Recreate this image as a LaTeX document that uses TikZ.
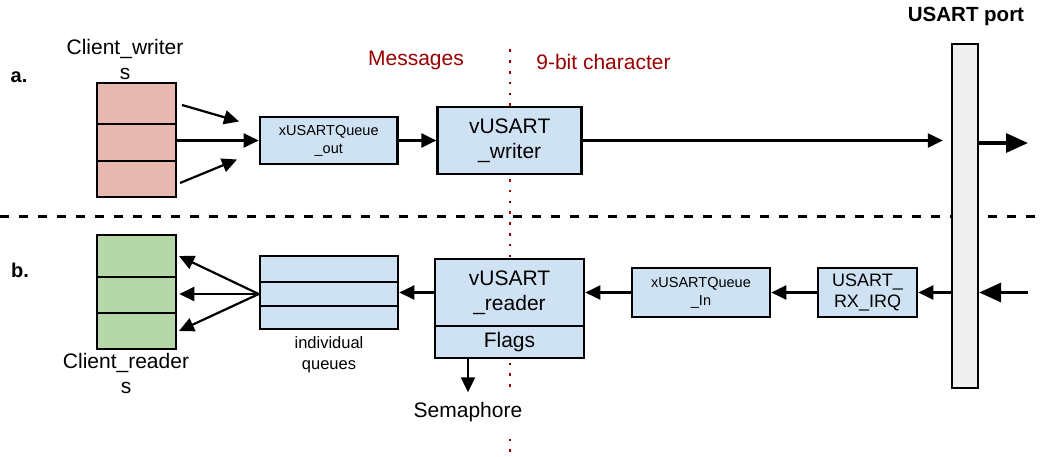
\documentclass[tikz,border=0pt]{standalone}
\usepackage{fontspec}
\setmainfont{Liberation Sans}
\usetikzlibrary{arrows.meta}
\definecolor{msgred}{HTML}{990000}
\definecolor{writerfill}{HTML}{E6B8AF}
\definecolor{readerfill}{HTML}{B6D7A8}
\definecolor{queuefill}{HTML}{CFE2F3}
\definecolor{portfill}{HTML}{EFEFEF}
\begin{document}
\begin{tikzpicture}[x=1pt,y=-1pt,
  box/.style={draw, line width=2.6pt, inner sep=0pt, align=center},
  wcell/.style={box, fill=writerfill, minimum width=79pt},
  rcell/.style={box, fill=readerfill, minimum width=79pt},
  qcell/.style={box, fill=queuefill},
  big/.style={font=\fontsize{21}{25}\selectfont},
  mid/.style={font=\fontsize{18}{21}\selectfont},
  small/.style={font=\fontsize{14.5}{18}\selectfont},
  lbl/.style={align=center, inner sep=0pt},
  sect/.style={font=\fontsize{20}{24}\selectfont\bfseries, inner sep=0pt},
  arr/.style={line width=2.2pt, -{Triangle[length=15pt,width=14pt]}},
  bigarr/.style={line width=3.2pt, -{Triangle[length=22pt,width=19pt]}},
  sepline/.style={line width=2.7pt, dash pattern=on 9pt off 10pt},
  divline/.style={msgred, line width=2.6pt, dash pattern=on 2.6pt off 8.2pt}]
\useasboundingbox (0,0) rectangle (1041,456);

% separator between the two halves and the message / character boundary
\draw[sepline] (0,216.5) -- (1041,216.5);
\draw[divline] (510,49.4) -- (510,456);

% section letters and headings
\node[sect] (lbla) at (19,77) {a.};
\node[sect] (lblb) at (20,270) {b.};
\node[big, lbl, text=msgred] (msg) at (416,60) {Messages};
\node[big, lbl, text=msgred] (chr) at (603.5,62) {9-bit character};
\node[sect, font=\fontsize{20.5}{24}\selectfont\bfseries] (portlbl) at (966,16) {USART port};

% USART port
\node[box, fill=portfill, minimum width=25.7pt, minimum height=344pt] (port) at (965,216) {};

% ---- a. transmit path ----
\node[wcell, minimum height=41pt] (cw1) at (136.5,103.5) {};
\node[wcell, minimum height=37pt] (cw2) at (136.5,142.5) {};
\node[wcell, minimum height=36pt] (cw3) at (136.5,179) {};
\node[big, lbl, anchor=base] (cwlbl) at (125,79.5) {Client\_writer\\s};

\node[qcell, small, minimum width=137.5pt, minimum height=47pt] (qout) at (328.75,140.5) {xUSARTQueue\\\_out};
\node[qcell, big, minimum width=144pt, minimum height=67pt] (writer) at (509.7,140.5) {vUSART\\\_writer};

\coordinate (w1s) at (182,105);
\coordinate (w1e) at (239,121.5);
\coordinate (w3s) at (180,183);
\coordinate (w3e) at (237,159.5);
\coordinate (txend) at (1028,143);

\draw[arr] (w1s) -- (w1e);
\draw[arr] (cw2.east |- qout.west) -- (qout.west);
\draw[arr] (w3s) -- (w3e);
\draw[arr] (qout.east) -- (writer.west);
\draw[arr, shorten >=8pt] (writer.east) -- (writer.east -| port.west);
\draw[bigarr] (port.east |- txend) -- (txend);

% ---- b. receive path ----
\node[rcell, minimum height=42pt] (cr1) at (136.5,256) {};
\node[rcell, minimum height=36pt] (cr2) at (136.5,295) {};
\node[rcell, minimum height=36pt] (cr3) at (136.5,331) {};
\node[big, lbl, anchor=base] (crlbl) at (126,393.5) {Client\_reader\\s};

\node[qcell, minimum width=138pt, minimum height=26pt] (iq1) at (329,269) {};
\node[qcell, minimum width=138pt, minimum height=24pt] (iq2) at (329,294) {};
\node[qcell, minimum width=138pt, minimum height=23pt] (iq3) at (329,317.5) {};
\node[lbl, anchor=base, font=\fontsize{16.5}{21.5}\selectfont] (iqlbl) at (329,369.5) {individual\\queues};

\node[qcell, big, minimum width=149pt, minimum height=67pt] (reader) at (509.5,292.5) {vUSART\\\_reader};
\node[qcell, big, minimum width=149pt, minimum height=32pt] (flags) at (509.5,342) {Flags};
\node[big, lbl, anchor=base, fill=white, text height=24pt, text depth=22pt] (sem) at (468,417) {Semaphore};

\node[qcell, small, minimum width=138pt, minimum height=49pt] (qin) at (701,292.5) {xUSARTQueue\\\_In};
\node[qcell, mid, minimum width=99pt, minimum height=49pt] (irq) at (867.5,292.5) {USART\_\\RX\_IRQ};

\coordinate (r1e) at (179,256);
\coordinate (r3e) at (179,331);
\coordinate (rxstart) at (1028,292.5);

\draw[bigarr] (rxstart) -- (port.east |- rxstart);
\draw[arr] (port.west |- irq.east) -- (irq.east);
\draw[arr] (irq.west) -- (qin.east);
\draw[arr] (qin.west) -- (reader.east);
\draw[arr] (reader.west) -- (reader.west -| iq2.east);
\draw[arr] (iq2.west) -- (r1e);
\draw[arr, shorten >=2pt] (iq2.west) -- (iq2.west -| cr2.east);
\draw[arr] (iq2.west) -- (r3e);
\draw[arr] (flags.south -| sem) -- ++(0,33);
\end{tikzpicture}
\end{document}
